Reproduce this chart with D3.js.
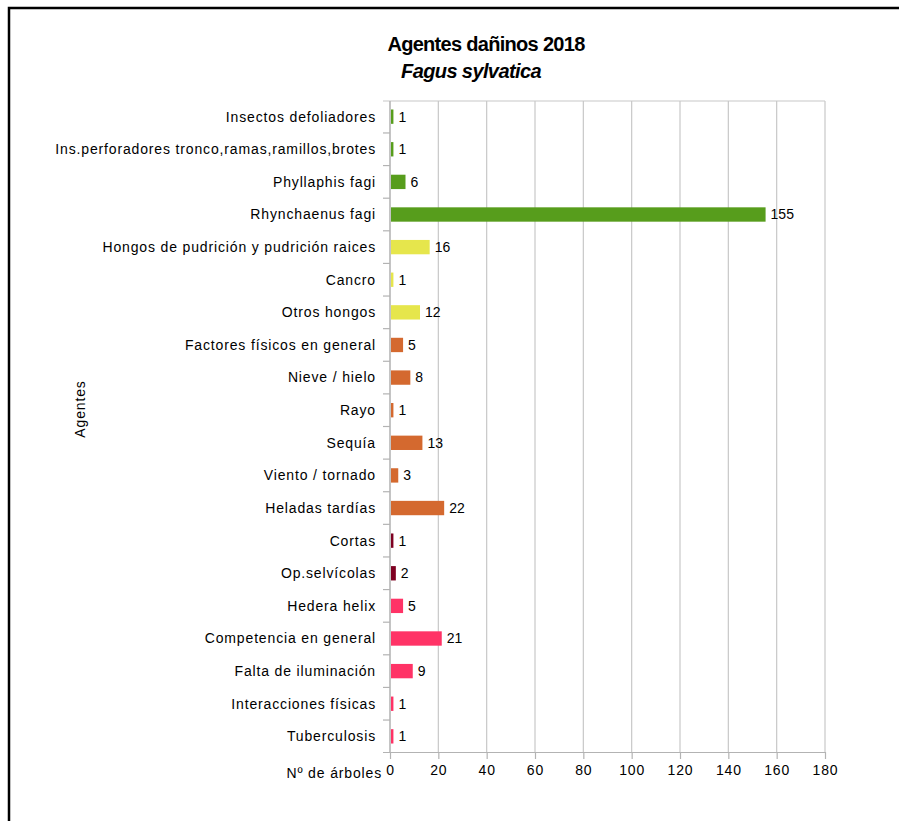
<!DOCTYPE html>
<html>
<head>
<meta charset="utf-8">
<script src="https://cdn.jsdelivr.net/npm/d3@7"></script>
<style>
  body { margin: 0; background: #fff; }
  text { font-family: "Liberation Sans", Arial, sans-serif; }
</style>
</head>
<body>
<div id="chart"></div>
<script>
const agentes = [
  "Insectos defoliadores",
  "Ins.perforadores tronco,ramas,ramillos,brotes",
  "Phyllaphis fagi",
  "Rhynchaenus fagi",
  "Hongos de pudrición y pudrición raices",
  "Cancro",
  "Otros hongos",
  "Factores físicos en general",
  "Nieve / hielo",
  "Rayo",
  "Sequía",
  "Viento / tornado",
  "Heladas tardías",
  "Cortas",
  "Op.selvícolas",
  "Hedera helix",
  "Competencia en general",
  "Falta de iluminación",
  "Interacciones físicas",
  "Tuberculosis"
];
const arboles = [1, 1, 6, 155, 16, 1, 12, 5, 8, 1, 13, 3, 22, 1, 2, 5, 21, 9, 1, 1];
// grupo de cada agente (color)
const grupos = ["insectos", "insectos", "insectos", "insectos", "hongos", "hongos", "hongos",
  "abioticos", "abioticos", "abioticos", "abioticos", "abioticos", "abioticos",
  "humanos", "humanos", "plantas", "plantas", "plantas", "plantas", "plantas"];
const xTicks = [0, 20, 40, 60, 80, 100, 120, 140, 160, 180];

const width = 899, height = 821;
const margin = {top: 101, right: 74, bottom: 69, left: 390};
const ls = 0.85; // espaciado de letras

const svg = d3.select("#chart").append("svg")
  .attr("width", width)
  .attr("height", height);

// marco negro
svg.append("path")
  .attr("d", `M9,${height} V8 H${width}`)
  .attr("fill", "none")
  .attr("stroke", "#000")
  .attr("stroke-width", 2.5);

const x = d3.scaleLinear()
  .domain([0, 180])
  .range([margin.left, width - margin.right]);

const y = d3.scaleBand()
  .domain(agentes)
  .range([margin.top, height - margin.bottom])
  .paddingInner(0.56)
  .paddingOuter(0.26);

const color = d3.scaleOrdinal()
  .domain(["insectos", "hongos", "abioticos", "humanos", "plantas"])
  .range(["#579d1c", "#e6e64c", "#d4692f", "#7e0021", "#ff3366"]);

// rejilla vertical
svg.append("g")
  .selectAll("line")
  .data(xTicks)
  .join("line")
    .attr("x1", d => x(d)).attr("x2", d => x(d))
    .attr("y1", margin.top).attr("y2", height - margin.bottom)
    .attr("stroke", "#c8c8c8")
    .attr("stroke-width", 1.2);

// linea superior
svg.append("line")
  .attr("x1", margin.left - 7).attr("x2", x(180))
  .attr("y1", margin.top).attr("y2", margin.top)
  .attr("stroke", "#c8c8c8").attr("stroke-width", 1.2);

// eje x
const xAxis = g => g
  .attr("transform", `translate(0,${height - margin.bottom})`)
  .call(d3.axisBottom(x).tickValues(xTicks).tickSize(7).tickPadding(6))
  .call(g => g.select(".domain").attr("stroke", "#b3b3b3").attr("stroke-width", 1.2)
      .attr("d", `M${margin.left - 7},0.5H${x(180)}`))
  .call(g => g.selectAll(".tick line").attr("stroke", "#b3b3b3").attr("stroke-width", 1.2))
  .call(g => g.selectAll(".tick text").attr("font-size", 14).attr("fill", "#000")
      .attr("letter-spacing", ls)
      .attr("font-family", "Liberation Sans, Arial, sans-serif"));

svg.append("g").call(xAxis);

// eje y: linea y marcas entre categorias
const yAxisG = svg.append("g");
yAxisG.append("line")
  .attr("x1", margin.left).attr("x2", margin.left)
  .attr("y1", margin.top).attr("y2", height - margin.bottom)
  .attr("stroke", "#b3b3b3").attr("stroke-width", 1.2);

const step = y.step();
yAxisG.selectAll(".sep")
  .data(agentes.slice(1))
  .join("line")
    .attr("class", "sep")
    .attr("x1", margin.left - 7).attr("x2", margin.left)
    .attr("y1", d => y(d) - y.paddingInner() * step / 2)
    .attr("y2", d => y(d) - y.paddingInner() * step / 2)
    .attr("stroke", "#b3b3b3").attr("stroke-width", 1.2);

yAxisG.selectAll(".lbl")
  .data(agentes)
  .join("text")
    .attr("class", "lbl")
    .attr("x", margin.left - 14)
    .attr("y", d => y(d) + y.bandwidth() / 2)
    .attr("dy", "0.35em")
    .attr("text-anchor", "end")
    .attr("font-size", 14)
    .attr("letter-spacing", ls)
    .attr("fill", "#000")
    .text(d => d);

// barras
const datos = agentes.map((a, i) => ({agente: a, valor: arboles[i], grupo: grupos[i]}));

svg.append("g")
  .selectAll("rect")
  .data(datos)
  .join("rect")
    .attr("x", x(0) + 1)
    .attr("y", d => y(d.agente))
    .attr("width", d => x(d.valor) - x(0))
    .attr("height", y.bandwidth())
    .attr("fill", d => color(d.grupo));

svg.append("g")
  .selectAll("text")
  .data(datos)
  .join("text")
    .attr("x", d => x(d.valor) + 6)
    .attr("y", d => y(d.agente) + y.bandwidth() / 2)
    .attr("dy", "0.35em")
    .attr("font-size", 14)
    .attr("fill", "#000")
    .text(d => d.valor);

// titulos
svg.append("text")
  .attr("x", 486).attr("y", 51)
  .attr("text-anchor", "middle")
  .attr("font-size", 20)
  .attr("font-weight", "bold")
  .attr("letter-spacing", -0.7)
  .text("Agentes dañinos 2018");

svg.append("text")
  .attr("x", 471).attr("y", 78)
  .attr("text-anchor", "middle")
  .attr("font-size", 20)
  .attr("font-weight", "bold")
  .attr("font-style", "italic")
  .attr("letter-spacing", -0.6)
  .text("Fagus sylvatica");

svg.append("text")
  .attr("x", 382).attr("y", 778)
  .attr("text-anchor", "end")
  .attr("font-size", 14)
  .attr("letter-spacing", ls)
  .text("Nº de árboles");

svg.append("text")
  .attr("transform", "translate(85,409) rotate(-90)")
  .attr("text-anchor", "middle")
  .attr("font-size", 14)
  .attr("letter-spacing", ls)
  .text("Agentes");
</script>
</body>
</html>
